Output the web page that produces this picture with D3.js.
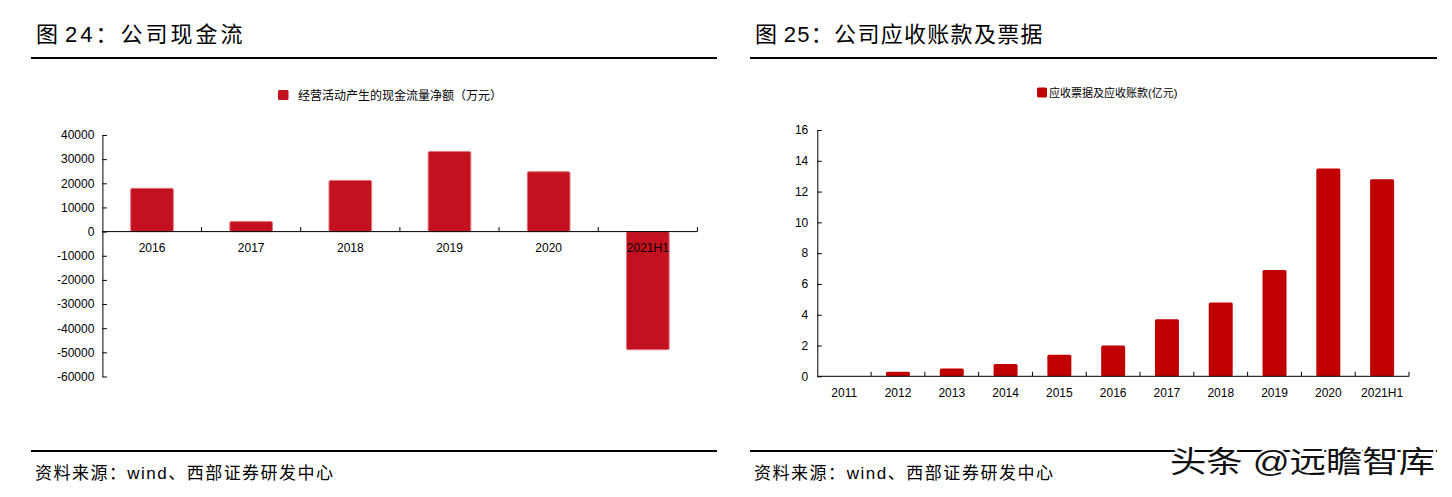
<!DOCTYPE html>
<html><head><meta charset="utf-8">
<script src="https://cdn.jsdelivr.net/npm/d3@7"></script>
<style>
html,body{margin:0;padding:0;background:#fff;}
svg{display:block;}
text{font-family:"Liberation Sans","Noto Sans CJK SC",sans-serif;}
</style></head>
<body>
<svg id="c" width="1452" height="497"></svg>
<script>
// ---- data ----
const cashCategories = ["2016","2017","2018","2019","2020","2021H1"];
const cashValues = [17900, 4200, 21200, 33200, 24800, -48900];
const cashTicks = [40000,30000,20000,10000,0,-10000,-20000,-30000,-40000,-50000,-60000];
const cashLegend = "经营活动产生的现金流量净额（万元）";
const cashTitle = "图 24：公司现金流";

const arCategories = ["2011","2012","2013","2014","2015","2016","2017","2018","2019","2020","2021H1"];
const arValues = [0, 0.3, 0.5, 0.8, 1.4, 2.0, 3.7, 4.8, 6.9, 13.5, 12.8];
const arTicks = [0,2,4,6,8,10,12,14,16];
const arLegend = "应收票据及应收账款(亿元)";
const arTitle = "图 25：公司应收账款及票据";

const sourceText = "资料来源：wind、西部证券研发中心";
const watermark = "头条 @远瞻智库";

const svg = d3.select("#c");
const fmt = d => String(d);

// ---- frame: titles, rules, sources ----
function frame(x0, x1, title, ls, ws, srcLen){
  svg.append("text").attr("x", x0+5).attr("y", 42)
    .attr("font-size", 22).attr("letter-spacing", ls).attr("word-spacing", ws)
    .attr("fill","#000").text(title);
  svg.append("line").attr("x1", x0).attr("x2", x1).attr("y1", 58).attr("y2", 58)
    .attr("stroke","#000").attr("stroke-width", 2);
  svg.append("line").attr("x1", x0).attr("x2", x1).attr("y1", 451).attr("y2", 451)
    .attr("stroke","#000").attr("stroke-width", 2);
  svg.append("text").attr("x", x0+4).attr("y", 479)
    .attr("font-size", 17).attr("textLength", srcLen).attr("lengthAdjust","spacing")
    .attr("fill","#000").text(sourceText);
}
frame(31, 717, cashTitle, 3, -5, 298);
frame(750, 1437, arTitle, 1.3, -2, 299);

// ---- left chart ----
{
  const x = d3.scaleBand().domain(cashCategories).range([102.4, 697.4])
    .paddingInner(0.57).paddingOuter(0.285);
  const y = d3.scaleLinear().domain([-60000, 40000]).range([376.5, 135]);
  const g = svg.append("g");

  // legend
  g.append("rect").attr("x", 278).attr("y", 90).attr("width", 10.5).attr("height", 10)
    .attr("rx", 1.5).attr("fill", "#C4111F");
  g.append("text").attr("x", 298).attr("y", 99.5).attr("font-size", 12)
    .attr("font-family","Noto Sans CJK SC").text(cashLegend);

  // bars
  g.selectAll("rect.bar").data(cashValues).join("rect").attr("class","bar")
    .attr("x", (d,i)=>x(cashCategories[i]))
    .attr("width", x.bandwidth())
    .attr("y", d=>y(Math.max(d,0)))
    .attr("height", d=>Math.abs(y(d)-y(0)))
    .attr("rx", 1.5)
    .attr("fill", "#C4111F").attr("stroke", "#E3727E").attr("stroke-width", 1);

  // y axis
  const ya = g.append("g").attr("transform", "translate(102.4,0)")
    .call(d3.axisLeft(y).tickValues(cashTicks).tickSize(-4.5).tickSizeOuter(0).tickPadding(8)
      .tickFormat(fmt));
  ya.select(".domain").attr("stroke","#000");
  ya.selectAll(".tick line").attr("stroke","#000");
  ya.selectAll("text").attr("font-size", 12).attr("fill","#000")
    .attr("font-family","Liberation Sans");

  // x axis line & boundary ticks
  const bnd = d3.scaleLinear().domain([0, cashCategories.length]).range(x.range());
  g.append("line").attr("x1", x.range()[0]).attr("x2", x.range()[1])
    .attr("y1", y(0)).attr("y2", y(0)).attr("stroke","#000");
  g.selectAll("line.bt").data(d3.range(1, cashCategories.length+1)).join("line").attr("class","bt")
    .attr("x1", d=>bnd(d)).attr("x2", d=>bnd(d)).attr("y1", y(0)).attr("y2", y(0)-4.5)
    .attr("stroke","#000");
  g.selectAll("text.xl").data(cashCategories).join("text").attr("class","xl")
    .attr("x", d=>x(d)+x.bandwidth()/2).attr("y", 252)
    .attr("text-anchor","middle").attr("font-size", 12).attr("fill","#000").text(d=>d);
}

// ---- right chart ----
{
  const x = d3.scaleBand().domain(arCategories).range([817.3, 1409])
    .paddingInner(0.554).paddingOuter(0.277);
  const y = d3.scaleLinear().domain([0, 16]).range([376.3, 130]);
  const g = svg.append("g");

  g.append("rect").attr("x", 1037).attr("y", 87.5).attr("width", 10).attr("height", 10)
    .attr("rx", 1.5).attr("fill", "#C00000");
  g.append("text").attr("x", 1049).attr("y", 96.5).attr("font-size", 11)
    .attr("font-family","Noto Sans CJK SC").text(arLegend);

  g.selectAll("rect.bar").data(arValues).join("rect").attr("class","bar")
    .attr("x", (d,i)=>x(arCategories[i]))
    .attr("width", x.bandwidth())
    .attr("y", d=>y(d))
    .attr("height", d=>y(0)-y(d))
    .attr("rx", 1.5)
    .attr("fill", "#C00000");

  const ya = g.append("g").attr("transform", "translate(817.3,0)")
    .call(d3.axisLeft(y).tickValues(arTicks).tickSize(-4.5).tickSizeOuter(0).tickPadding(9)
      .tickFormat(fmt));
  ya.select(".domain").attr("stroke","#000");
  ya.selectAll(".tick line").attr("stroke","#000");
  ya.selectAll("text").attr("font-size", 12).attr("fill","#000")
    .attr("font-family","Liberation Sans");

  const bnd = d3.scaleLinear().domain([0, arCategories.length]).range(x.range());
  g.append("line").attr("x1", x.range()[0]).attr("x2", x.range()[1])
    .attr("y1", y(0)).attr("y2", y(0)).attr("stroke","#000");
  g.selectAll("line.bt").data(d3.range(1, arCategories.length+1)).join("line").attr("class","bt")
    .attr("x1", d=>bnd(d)).attr("x2", d=>bnd(d)).attr("y1", y(0)).attr("y2", y(0)-4.5)
    .attr("stroke","#000");
  g.selectAll("text.xl").data(arCategories).join("text").attr("class","xl")
    .attr("x", d=>x(d)+x.bandwidth()/2).attr("y", 397)
    .attr("text-anchor","middle").attr("font-size", 12).attr("fill","#000").text(d=>d);
}

// ---- watermark ----
svg.append("text").attr("x", 1170).attr("y", 472)
  .attr("font-size", 30).attr("font-family","Noto Sans CJK SC")
  .attr("textLength", 265).attr("lengthAdjust","spacingAndGlyphs")
  .attr("fill","#111").attr("stroke","#fff").attr("stroke-width", 4)
  .attr("stroke-linejoin","round")
  .attr("paint-order","stroke").text(watermark);
</script>
</body></html>
